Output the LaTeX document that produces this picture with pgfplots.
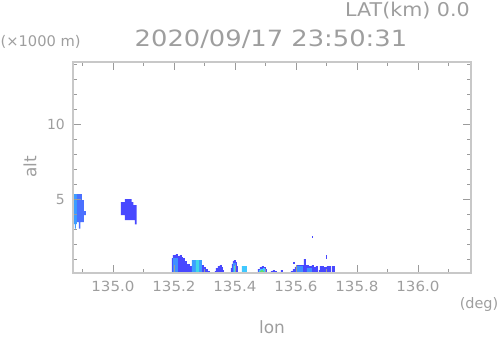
\documentclass[border=0pt]{standalone}
\usepackage{pgfplots}
\pgfplotsset{compat=1.18}
\usepackage{fontspec}
\setmainfont{DejaVu Sans}
\definecolor{txt}{RGB}{158,158,158}
\definecolor{axc}{RGB}{200,200,200}
\definecolor{tkc}{RGB}{155,155,155}
\definecolor{cBlue}{RGB}{72,72,255}
\definecolor{cBlue2}{RGB}{74,112,255}
\definecolor{cLight}{RGB}{64,144,255}
\definecolor{cLight1}{RGB}{60,158,255}
\definecolor{cCyan}{RGB}{64,200,255}
\definecolor{cAqua}{RGB}{64,216,232}
\definecolor{cGreen}{RGB}{96,224,112}
\begin{document}
\begin{tikzpicture}[x=1bp,y=1bp]
\path[use as bounding box] (-73,-63) rectangle (425,273);
\begin{axis}[
  at={(0,0)}, anchor=south west,
  scale only axis, width=398bp, height=211bp,
  xmin=134.869, xmax=136.174, ymin=0.09, ymax=14.15,
  axis line style={draw=axc, line width=1.6bp},
  xtick={135.0,135.2,135.4,135.6,135.8,136.0},
  xticklabels={135.0,135.2,135.4,135.6,135.8,136.0},
  minor xtick={134.9,135.1,135.3,135.5,135.7,135.9,136.1},
  ytick={5,10}, yticklabels={5,10},
  minor ytick={1,2,3,4,6,7,8,9,11,12,13,14},
  tick style={draw=tkc, line width=0.8bp},
  major tick length=8bp, minor tick length=4bp,
  tick align=inside,
  xticklabel style={font=\fontsize{14}{16}\selectfont, text=txt, anchor=base, yshift=-18.7bp, xscale=1.08},
  yticklabel style={font=\fontsize{14}{16}\selectfont, text=txt, anchor=east, inner sep=0pt, xshift=-8bp},
  axis on top,
]
% blob 1
\addplot[fill=cLight1, draw=none] coordinates {(134.865,5.353) (134.8820,5.353) (134.8820,3.353) (134.8787,3.353) (134.8787,3.053) (134.8754,3.053) (134.8754,3.353) (134.865,3.353)} --cycle;
\addplot[fill=cBlue2, draw=none] coordinates {(134.8820,5.353) (134.8984,5.353) (134.8984,4.953) (134.9049,4.953) (134.9049,4.22) (134.9115,4.22) (134.9115,3.953) (134.9049,3.953) (134.9049,3.487) (134.8934,3.487) (134.8934,3.053) (134.8885,3.053) (134.8885,3.487) (134.8820,3.487)} --cycle;
% blob 2
\addplot[fill=cBlue, draw=none] coordinates {(135.0393,5.02) (135.0613,5.02) (135.0613,4.82) (135.0672,4.82) (135.0672,4.62) (135.0777,4.62) (135.0777,3.333) (135.0721,3.333) (135.0721,3.62) (135.0393,3.62) (135.0393,3.953) (135.0262,3.953) (135.0262,4.82) (135.0393,4.82)} --cycle;
% low clutter
\addplot[fill=cBlue, draw=none, const plot] coordinates {(135.1934,0) (135.1934,1.087) (135.1967,1.287) (135.2066,1.353) (135.2131,1.22) (135.2197,1.287) (135.2262,1.153) (135.2295,1.087) (135.2361,0.887) (135.2426,0.687) (135.2525,0.553) (135.2918,0.62) (135.2984,0.487) (135.3049,0.353) (135.3115,0.22) (135.3180,0)} --cycle;
\addplot[fill=cLight, draw=none, const plot] coordinates {(135.1967,0) (135.1967,1.087) (135.2131,0)} --cycle;
\addplot[fill=cLight1, draw=none, const plot] coordinates {(135.2590,0) (135.2590,0.953) (135.2918,0)} --cycle;
\addplot[fill=cAqua, draw=none, const plot] coordinates {(135.2721,0) (135.2721,0.953) (135.2820,0)} --cycle;
\addplot[fill=cBlue, draw=none, const plot] coordinates {(135.3344,0) (135.3344,0.22) (135.3377,0.42) (135.3443,0.553) (135.3508,0.62) (135.3574,0.487) (135.3607,0.287) (135.3639,0)} --cycle;
\addplot[fill=cBlue, draw=none, const plot] coordinates {(135.3869,0) (135.3869,0.42) (135.3902,0.687) (135.3934,0.887) (135.3967,0.953) (135.4033,0.82) (135.4066,0.553) (135.4098,0)} --cycle;
\addplot[fill=cLight, draw=none, const plot] coordinates {(135.3934,0) (135.3934,0.753) (135.4033,0)} --cycle;
\addplot[fill=cAqua, draw=none, const plot] coordinates {(135.3967,0) (135.3967,0.553) (135.4000,0)} --cycle;
\addplot[fill=cCyan, draw=none, const plot] coordinates {(135.4230,0) (135.4230,0.553) (135.4393,0)} --cycle;
\addplot[fill=cBlue, draw=none, const plot] coordinates {(135.4721,0) (135.4721,0.153) (135.4754,0.353) (135.4820,0.487) (135.4885,0.553) (135.4951,0.487) (135.5016,0.353) (135.5049,0)} --cycle;
\addplot[fill=cCyan, draw=none, const plot] coordinates {(135.4787,0) (135.4787,0.287) (135.4820,0.353) (135.4918,0.42) (135.4984,0.287) (135.5016,0)} --cycle;
\addplot[fill=cGreen, draw=none, const plot] coordinates {(135.4820,0) (135.4820,0.22) (135.4852,0.287) (135.4918,0.22) (135.4951,0)} --cycle;
\addplot[fill=cBlue, draw=none, const plot] coordinates {(135.5148,0) (135.5148,0.1) (135.5180,0.22) (135.5246,0.287) (135.5311,0.22) (135.5377,0)} --cycle;
\addplot[fill=cCyan, draw=none, const plot] coordinates {(135.5213,0) (135.5213,0.153) (135.5311,0)} --cycle;
\addplot[fill=cBlue, draw=none, const plot] coordinates {(135.5508,0) (135.5508,0.287) (135.5574,0)} --cycle;
\addplot[fill=cBlue, draw=none, const plot] coordinates {(135.5770,0) (135.5770,0.153) (135.5836,0.22) (135.5902,0.353) (135.5967,0.487) (135.6033,0.62) (135.6262,1.02) (135.6328,0.62) (135.6426,0.553) (135.6525,0.62) (135.6590,0.487) (135.6656,0.553) (135.6721,0)} --cycle;
\addplot[fill=cLight, draw=none, const plot] coordinates {(135.6000,0) (135.6000,0.553) (135.6230,0)} --cycle;
\addplot[fill=cLight, draw=none, const plot] coordinates {(135.6361,0) (135.6361,0.42) (135.6525,0)} --cycle;
\addplot[fill=cBlue, draw=none] coordinates {(135.5902,0.687) (135.5967,0.687) (135.5967,0.82) (135.5902,0.82)} --cycle;
\addplot[fill=cBlue, draw=none, const plot] coordinates {(135.6754,0) (135.6754,0.287) (135.6787,0.553) (135.6918,0.487) (135.7016,0.553) (135.7148,0)} --cycle;
\addplot[fill=cBlue, draw=none, const plot] coordinates {(135.7180,0) (135.7180,0.553) (135.7279,0)} --cycle;
\addplot[fill=cBlue, draw=none] coordinates {(135.6984,1.02) (135.7016,1.02) (135.7016,1.29) (135.6984,1.29)} --cycle;
\addplot[fill=cBlue, draw=none] coordinates {(135.6525,2.42) (135.6557,2.42) (135.6557,2.55) (135.6525,2.55)} --cycle;
\end{axis}
\node[anchor=base east, text=txt, font=\fontsize{19}{22}\selectfont, inner sep=0pt] at (397,256.3) {\scalebox{1.09}[1]{LAT(km) 0.0}};
\node[anchor=base, text=txt, font=\fontsize{22.5}{26}\selectfont, inner sep=0pt] at (198,227) {\scalebox{1.15}[1]{2020/09/17 23:50:31}};
\node[anchor=base west, text=txt, font=\fontsize{14.7}{17}\selectfont, inner sep=0pt] at (-72.5,226.5) {(×1000 m)};
\node[rotate=90, text=txt, font=\fontsize{17}{20}\selectfont, inner sep=0pt] at (-43,106) {alt};
\node[anchor=base, text=txt, font=\fontsize{17}{20}\selectfont, inner sep=0pt] at (199,-60) {lon};
\node[text=txt, font=\fontsize{14.5}{17}\selectfont, inner sep=0pt] at (406,-32) {(deg)};
\end{tikzpicture}
\end{document}
